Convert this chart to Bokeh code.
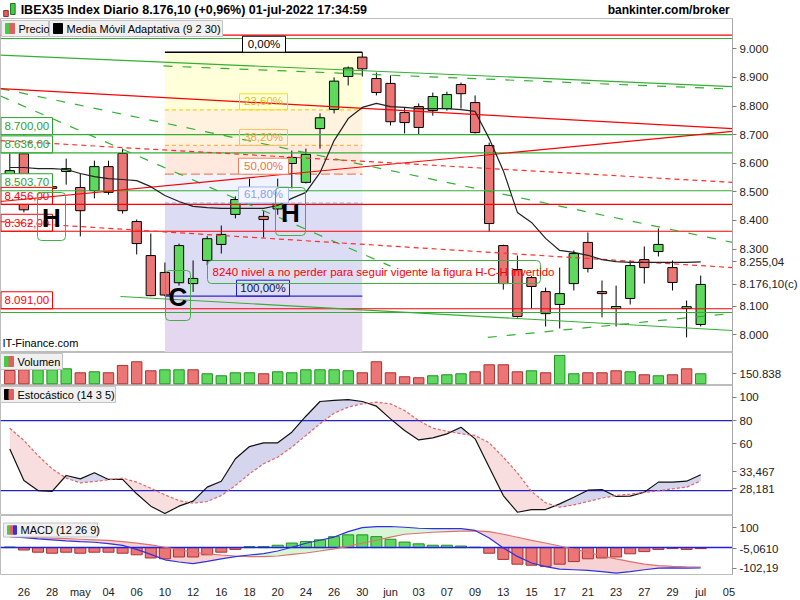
from bokeh.plotting import figure
from bokeh.layouts import column
from bokeh.models import Range1d, FixedTicker, Label, BoxAnnotation
from bokeh.embed import file_html
from bokeh.resources import INLINE

FONT = "Liberation Sans"

# ---------------- data ----------------
tick_pos = list(range(1, 52, 2))
tick_labels = ["26", "28", "may", "04", "06", "10", "12", "16", "18", "20", "24", "26", "30",
               "jun", "03", "07", "09", "13", "15", "17", "21", "23", "27", "29", "jul", "05"]

opens = [8499, 8633, 8470, 8518, 8571, 8515, 8504, 8588, 8634, 8396,
         8277, 8218, 8182, 8179, 8260, 8316, 8421, 8515, 8414, 8440,
         8599, 8533, 8721, 8788, 8903, 8971, 8896, 8879, 8777, 8798,
         8784, 8791, 8875, 8812, 8662, 8312, 8228, 8200, 8151, 8106,
         8179, 8323, 8151, 8092, 8127, 8263, 8291, 8235, 8092, 8036]
highs = [8634, 8697, 8540, 8540, 8616, 8564, 8609, 8609, 8651, 8403,
         8354, 8253, 8319, 8260, 8345, 8382, 8484, 8546, 8435, 8546,
         8644, 8651, 8774, 8900, 8938, 8988, 8917, 8907, 8795, 8809,
         8847, 8850, 8882, 8837, 8672, 8315, 8277, 8205, 8165, 8235,
         8295, 8358, 8190, 8172, 8260, 8309, 8372, 8260, 8120, 8207]
lows = [8473, 8428, 8462, 8490, 8525, 8344, 8477, 8490, 8424, 8281,
        8135, 8135, 8172, 8150, 8243, 8284, 8407, 8460, 8340, 8420,
        8512, 8529, 8651, 8774, 8872, 8903, 8837, 8732, 8704, 8700,
        8766, 8784, 8791, 8704, 8361, 8158, 8060, 8092, 8029, 8022,
        8155, 8218, 8061, 8029, 8106, 8179, 8274, 8155, 7991, 8029]
closes = [8574, 8437, 8500, 8512, 8581, 8434, 8588, 8498, 8434, 8319,
          8137, 8139, 8312, 8197, 8336, 8351, 8473, 8478, 8403, 8510,
          8620, 8631, 8759, 8887, 8933, 8930, 8847, 8745, 8742, 8725,
          8833, 8840, 8843, 8707, 8389, 8179, 8064, 8169, 8074, 8144,
          8284, 8232, 8144, 8099, 8242, 8235, 8316, 8183, 8098.4, 8176.1]
ama = [8585, 8585, 8581, 8581, 8578, 8564, 8553, 8546, 8543, 8539,
       8518, 8487, 8466, 8449, 8445, 8442, 8442, 8442, 8442, 8452,
       8477, 8498, 8567, 8679, 8756, 8795, 8809, 8798, 8795, 8791,
       8791, 8791, 8787, 8781, 8686, 8574, 8428, 8393, 8337, 8295,
       8288, 8278, 8263, 8256, 8253, 8253, 8253, 8253, 8253, 8255.04]
volume = [201, 211, 211, 211, 226, 166, 181, 166, 277, 332,
          196, 211, 211, 211, 151, 121, 166, 166, 151, 181,
          166, 211, 211, 211, 196, 166, 332, 166, 106, 91,
          121, 136, 151, 181, 287, 287, 181, 196, 166, 428,
          151, 166, 166, 196, 181, 136, 121, 136, 226, 150.838]
volume_up = [0, 0, 1, 1, 1, 0, 1, 0, 0, 0, 0, 1, 1, 0, 1, 1, 1, 1, 0, 1,
             1, 1, 1, 1, 1, 0, 0, 0, 0, 0, 1, 1, 1, 0, 0, 0, 0, 1, 0, 1,
             1, 0, 0, 0, 1, 0, 1, 0, 0, 1]
stoch_k = [55.7, 28.6, 20.0, 19.2, 32.9, 30.0, 35.2, 29.5, 29.5, 17.2,
           6.6, 0.3, 6.6, 10.9, 22.9, 28.0, 47.2, 57.7, 60.9, 60.9,
           70.0, 83.7, 96.3, 97.2, 98.0, 96.3, 92.3, 81.4, 71.5, 63.4,
           65.2, 68.6, 74.3, 64.3, 40.0, 15.7, 1.4, 3.7, 3.7, 8.6,
           14.3, 20.3, 20.9, 14.9, 15.2, 18.6, 27.2, 27.2, 28.0, 33.467]
stoch_d = [73.4, 62.9, 50.0, 38.6, 30.6, 26.6, 27.7, 29.2, 30.6, 27.2,
           22.0, 16.3, 11.4, 9.1, 10.6, 15.7, 24.3, 34.3, 42.9, 48.6,
           57.2, 67.2, 77.2, 86.3, 91.5, 94.3, 95.7, 94.3, 88.6, 80.0,
           73.4, 70.9, 68.6, 67.2, 60.9, 48.6, 35.2, 19.2, 9.5, 5.7,
           7.7, 10.6, 13.5, 15.7, 16.9, 18.3, 19.8, 21.5, 22.9, 28.181]
macd = [55, 50, 44, 39, 34, 30, 27, 20, 11, -9,
        -34, -61, -72, -80, -69, -56, -45, -37, -30, -17,
        2, 22, 37, 53, 80, 100, 105, 106, 102, 97,
        95, 95, 95, 86, 48, -2, -44, -77, -95, -108,
        -111, -114, -120, -128, -120, -111, -103, -102, -103, -102.19]
signal = [55, 53, 50, 48, 45, 42, 39, 36, 30, 23,
          14, 2, -11, -22, -31, -37, -42, -45, -45, -42,
          -34, -27, -17, -6, 6, 22, 37, 53, 67, 72,
          77, 80, 83, 84, 80, 67, 52, 36, 23, 8,
          -8, -23, -41, -56, -70, -83, -90, -94, -96, -97.13]
hist = [3, -12, -23, -28, -23, -28, -23, -23, -28, -36,
        -52, -56, -47, -47, -36, -23, -9, 5, 5, 12,
        23, 31, 39, 55, 64, 64, 55, 42, 28, 19,
        12, 12, 8, 2, -28, -59, -83, -88, -94, -83,
        -70, -56, -52, -47, -31, -20, -9, -5, -9, -5.061]

green_levels = [9036, 8700, 8636, 8503.7, 8078]
red_levels = [9048, 8456, 8362, 8091]
level_tags = [(8700, "8.700,00", "g"), (8636, "8.636,00", "g"), (8503.7, "8.503,70", "g"),
              (8456, "8.456,00", "r"), (8362, "8.362,00", "r"), (8091, "8.091,00", "r")]
fib_start, fib_end = 11, 25
fib_high, fib_low = 8988, 8135
fib_ratios = [0.0, 0.236, 0.382, 0.5, 0.618, 1.0]
fib_texts = ["0,00%", "23,60%", "38,20%", "50,00%", "61,80%", "100,00%"]
# trend lines: (i0, v0, i1, v1)
tl_green_solid = [(-0.66, 8978, 51.26, 8868), (7.85, 8134, 51.26, 8015)]
tl_green_dash = [(10.9, 8940, 51.26, 8859), (-0.66, 8835, 27.0, 8240),
                 (-0.66, 8861, 51.26, 8323), (33.9, 7991, 51.26, 8075)]
tl_red_solid = [(-0.66, 8861, 51.26, 8721), (-0.66, 8466, 51.26, 8711)]
tl_red_dash = [(-0.66, 8679, 51.26, 8533), (-0.66, 8396, 51.26, 8235)]

price_ticks = [8000, 8100, 8300, 8400, 8500, 8600, 8700, 8800, 8900, 9000]
last_close, last_ama = 8176.1, 8255.04
last_volume = 150.838
last_k, last_d = 33.467, 28.181
last_hist, last_macd = -5.061, -102.19

# ---------------- pixel helpers for annotation placement ----------------
def IX(px): return (px - 9.3) / 14.1
def PY(py): return 9000 - (py - 48.3) / 0.286
def VY(py): return (383.3 - py) * 15.08
def SY(py): return 100 - (py - 396.7) / 1.1667
def MY(py): return (549.3 - py) / 0.213

RED = "#FF0000"
idx = list(range(len(closes)))
XR = Range1d(IX(0), IX(732))


def mkfig(h, yr, xaxis=False, border_bottom=0):
    p = figure(width=800, height=h, x_range=XR, y_range=yr, output_backend="svg",
               toolbar_location=None, x_axis_location="below" if xaxis else None,
               y_axis_location="right", min_border_left=0, min_border_right=68,
               min_border_top=0, min_border_bottom=border_bottom)
    p.xgrid.visible = False
    p.ygrid.visible = False
    p.outline_line_color = "#BDBDBD"
    p.background_fill_color = "white"
    p.border_fill_color = "white"
    ax = p.yaxis[0]
    ax.axis_line_color = "#A8A8A8"
    ax.major_tick_line_color = "#808080"
    ax.major_tick_in = 0
    ax.major_tick_out = 4
    ax.minor_tick_line_color = None
    ax.major_label_text_font = FONT
    ax.major_label_text_font_size = "11.5px"
    ax.major_label_text_color = "#222222"
    ax.major_label_standoff = 3
    return p


def set_ticks(p, ticks, labels):
    p.yaxis[0].ticker = FixedTicker(ticks=ticks)
    p.yaxis[0].major_label_overrides = dict(zip(ticks, labels))


def box(p, l, r, t, b, fill=None, line="#C8C8C8", radius=0, lw=1):
    p.add_layout(BoxAnnotation(left=l, right=r, top=t, bottom=b,
                               fill_color=fill if fill else "white",
                               fill_alpha=1 if fill else 0, line_color=line, line_alpha=1,
                               line_width=lw, border_radius=radius))


def lab(p, x, y, text, color="#000000", size="11px", bold=False, align="left", base="middle"):
    p.add_layout(Label(x=x, y=y, text=text, text_font=FONT, text_font_size=size,
                       text_color=color, text_font_style="bold" if bold else "normal",
                       text_align=align, text_baseline=base))


def legend_box(p, x0, x1, y0, y1, conv, icons, text):
    box(p, IX(x0), IX(x1), conv(y0), conv(y1), fill="#F0F0F0", line="#C4C4C4")
    n = len(icons)
    w = 9.0 / n
    for k, c in enumerate(icons):
        box(p, IX(x0 + 4 + k * w), IX(x0 + 4 + (k + 1) * w), conv(y0 + 3), conv(y1 - 3),
            fill=c, line=c)
    lab(p, IX(x0 + 17), conv((y0 + y1) / 2.0), text, size="11px")


def cross_fill(p, xs, a, b, col_up, col_dn):
    X, A, B = [], [], []
    for k in range(len(xs)):
        if k > 0:
            d0 = a[k - 1] - b[k - 1]
            d1 = a[k] - b[k]
            if d0 * d1 < 0:
                t = d0 / (d0 - d1)
                yc = a[k - 1] + t * (a[k] - a[k - 1])
                X.append(xs[k - 1] + t * (xs[k] - xs[k - 1]))
                A.append(yc)
                B.append(yc)
        X.append(xs[k])
        A.append(a[k])
        B.append(b[k])
    hi = [max(u, v) for u, v in zip(A, B)]
    lo = [min(u, v) for u, v in zip(A, B)]
    p.varea(x=X, y1=B, y2=hi, fill_color=col_up)
    p.varea(x=X, y1=lo, y2=B, fill_color=col_dn)


def fmt_int(v):
    return "{:,}".format(v).replace(",", ".")


# ---------------- header ----------------
hdr = figure(width=800, height=18, x_range=Range1d(0, 800), y_range=Range1d(18, 0),
             output_backend="svg", toolbar_location=None, x_axis_location=None,
             y_axis_location=None, min_border=0)
hdr.outline_line_color = None
hdr.xgrid.visible = False
hdr.ygrid.visible = False
hdr.add_layout(BoxAnnotation(left=3.5, right=8.5, top=10, bottom=16, fill_color="#E06060",
                             fill_alpha=1, line_color="#903030", line_alpha=1))
hdr.add_layout(BoxAnnotation(left=11, right=16, top=3, bottom=14, fill_color="#44CC44",
                             fill_alpha=1, line_color="#207020", line_alpha=1))
lab(hdr, 22, 9.5, "IBEX35 Index Diario 8.176,10 (+0,96%) 01-jul-2022 17:34:59",
    size="12.5px", bold=True)
lab(hdr, 797, 9.5, "bankinter.com/broker", size="12px", bold=True, align="right")

# ---------------- main price panel ----------------
pm = mkfig(334, Range1d(PY(352), PY(18)))
set_ticks(pm, price_ticks + [last_ama, last_close],
          [fmt_int(t) for t in price_ticks] + ["8.255,04", "8.176,10(c)"])

# fibonacci zones
fib_vals = [fib_high - r * (fib_high - fib_low) for r in fib_ratios]
zone_cols = ["#FFFFD9", "#FFF3DF", "#FFE9DE", "#F1F3FF", "#DCDCF5", "#E6D7F1"]
bounds = fib_vals + [PY(352)]
for k in range(len(zone_cols)):
    pm.quad(left=fib_start, right=fib_end, top=bounds[k], bottom=bounds[k + 1],
            fill_color=zone_cols[k], line_color=None)
fib_line_cols = ["#000000", "#F2D21A", "#FFB648", "#F0845A", "#AFC0F2", "#2828D0"]
fib_dash = ["solid", "4 3", "4 3", "9 4", "4 3", "solid"]
for v, c, d in zip(fib_vals, fib_line_cols, fib_dash):
    pm.segment(fib_start, v, fib_end, v, line_color=c, line_dash=d, line_width=1.3)

# candles
up = [c >= o for o, c in zip(opens, closes)]
pm.segment(idx, highs, idx, lows, line_color="black", line_width=1)
pm.vbar(x=idx, width=0.66, top=[max(o, c) for o, c in zip(opens, closes)],
        bottom=[min(o, c) for o, c in zip(opens, closes)],
        fill_color=["#5ED95E" if u else "#EC7676" for u in up], line_color="black", line_width=1)

# left level tags (opaque boxes over the candles, under the lines)
for v, t, c in level_tags:
    col = "#2EA02E" if c == "g" else RED
    pm.quad(left=IX(0.5), right=IX(52), top=v + 17 / 0.286, bottom=v,
            fill_color="white", line_color=col, line_width=1)

# level lines and trendlines
for v in green_levels:
    pm.segment(IX(0), v, IX(732), v, line_color="#33B033", line_width=1.2)
for v in red_levels:
    pm.segment(IX(0), v, IX(732), v, line_color=RED, line_width=1.2)
for (a, b, c, d) in tl_green_solid:
    pm.segment(a, b, c, d, line_color="#33B033", line_width=1.2)
for (a, b, c, d) in tl_green_dash:
    pm.segment(a, b, c, d, line_color="#33B033", line_width=1.2, line_dash="9 10")
for (a, b, c, d) in tl_red_solid:
    pm.segment(a, b, c, d, line_color=RED, line_width=1.2)
for (a, b, c, d) in tl_red_dash:
    pm.segment(a, b, c, d, line_color="#FF3030", line_width=1.2, line_dash="5 4")

pm.line(idx, ama, line_color="#222222", line_width=1.2)

for v, t, c in level_tags:
    col = "#2EA02E" if c == "g" else RED
    lab(pm, IX(4), v + 8.5 / 0.286, t, color=col, size="11.5px")

# fib labels
fib_lab_cols = ["#000000", "#E0C010", "#F0A838", "#F07040", "#8FA0E0", "#101050"]
fib_box_cols = ["#000000", "#F2E020", "#F8C060", "#F08060", "#A8B8F0", "#2020D0"]
fib_box_fill = ["#FFFFFF", None, None, "#FFFFFF", "#F4F6FF", None]
fib_box_x = [(242, 285), (239, 287), (239, 287), (238, 288), (238, 288), (236, 289)]
for v, t, tc, bc, bf, (x0, x1) in zip(fib_vals, fib_texts, fib_lab_cols, fib_box_cols,
                                      fib_box_fill, fib_box_x):
    box(pm, IX(x0), IX(x1), v + 16 / 0.286, v, fill=bf, line=bc)
    lab(pm, IX((x0 + x1) / 2.0), v + 8.5 / 0.286, t, color=tc, size="11.5px", align="center")

# H-C-H pattern marks
for (x0, x1, y0, y1, t) in [(37, 65, 192, 240, "H"), (275, 305, 187, 235, "H"),
                            (165, 190, 270, 320, "C")]:
    box(pm, IX(x0), IX(x1), PY(y0), PY(y1), fill=None, line="#44B044", radius=4)
    lab(pm, IX((x0 + x1) / 2.0), PY((y0 + y1) / 2.0 + 1), t, size="26px", bold=True,
        align="center")

box(pm, IX(207), IX(540), PY(260), PY(283), fill=None, line="#44B044", radius=4)
lab(pm, IX(212), PY(271.5), "8240 nivel a no perder para seguir vigente la figura H-C-H invertido",
    color=RED, size="11.5px")

# legends
legend_box(pm, 1, 48, 20, 36, PY, ["#44CC44", "#E06060"], "Precio")
legend_box(pm, 49, 222, 20, 36, PY, ["#000000"], "Media Móvil Adaptativa (9 2 30)")
lab(pm, IX(2), PY(342), "IT-Finance.com", size="11px")

# ---------------- volume panel ----------------
pv = mkfig(33, Range1d(VY(385), VY(352)))
set_ticks(pv, [last_volume], ["150.838"])
pv.vbar(x=idx, width=0.74, top=volume, bottom=0,
        fill_color=["#5ED95E" if u else "#EC7676" for u in volume_up],
        line_color=["#239023" if u else "#A83232" for u in volume_up], line_width=1)
legend_box(pv, 0, 62, 353, 369, VY, ["#44CC44", "#E06060"], "Volumen")

# ---------------- stochastic panel ----------------
ps = mkfig(130, Range1d(SY(515), SY(385)))
set_ticks(ps, [60, 80, 100, SY(471), SY(488)], ["60", "80", "100", "33,467", "28,181"])
cross_fill(ps, idx, stoch_k, stoch_d, "#D5D5EE", "#F8DEDE")
for v in (80, 20):
    ps.segment(IX(0), v, IX(732), v, line_color="#2222CC", line_width=1.2)
ps.line(idx, stoch_k, line_color="#111111", line_width=1.2)
ps.line(idx, stoch_d, line_color="#E06666", line_width=1.2, line_dash="3 2")
legend_box(ps, 0, 115, 386, 402, SY, ["#000000", "#E06060"], "Estocástico (14 3 5)")

# ---------------- MACD panel ----------------
pc = mkfig(85, Range1d(MY(578), MY(515)), xaxis=True, border_bottom=22)
set_ticks(pc, [100, last_hist, last_macd], ["100", "-5,0610", "-102,19"])
cross_fill(pc, idx, macd, signal, "#D6F6D6", "#F7D2D2")
pc.vbar(x=idx, width=0.78, top=[max(h, 0) for h in hist], bottom=[min(h, 0) for h in hist],
        fill_color=["#5ED95E" if h >= 0 else "#EC7676" for h in hist],
        line_color=["#239023" if h >= 0 else "#A83232" for h in hist], line_width=1)
pc.segment(IX(0), 0, IX(732), 0, line_color="#2020DD", line_width=1.5)
pc.line(idx, signal, line_color="#E07070", line_width=1.2)
pc.line(idx, macd, line_color="#3030E0", line_width=1.2)
legend_box(pc, 3, 97, 523, 538, MY, ["#44CC44", "#E06060", "#3030E0"], "MACD (12 26 9)")

xa = pc.xaxis[0]
xa.ticker = FixedTicker(ticks=tick_pos)
xa.major_label_overrides = dict(zip(tick_pos, tick_labels))
xa.axis_line_color = None
xa.major_tick_line_color = None
xa.minor_tick_line_color = None
xa.major_label_text_font = FONT
xa.major_label_text_font_size = "11px"
xa.major_label_text_color = "#222222"
xa.major_label_standoff = 5

layout = column(hdr, pm, pv, ps, pc, spacing=0)
open("out.html", "w").write(file_html(layout, INLINE))
